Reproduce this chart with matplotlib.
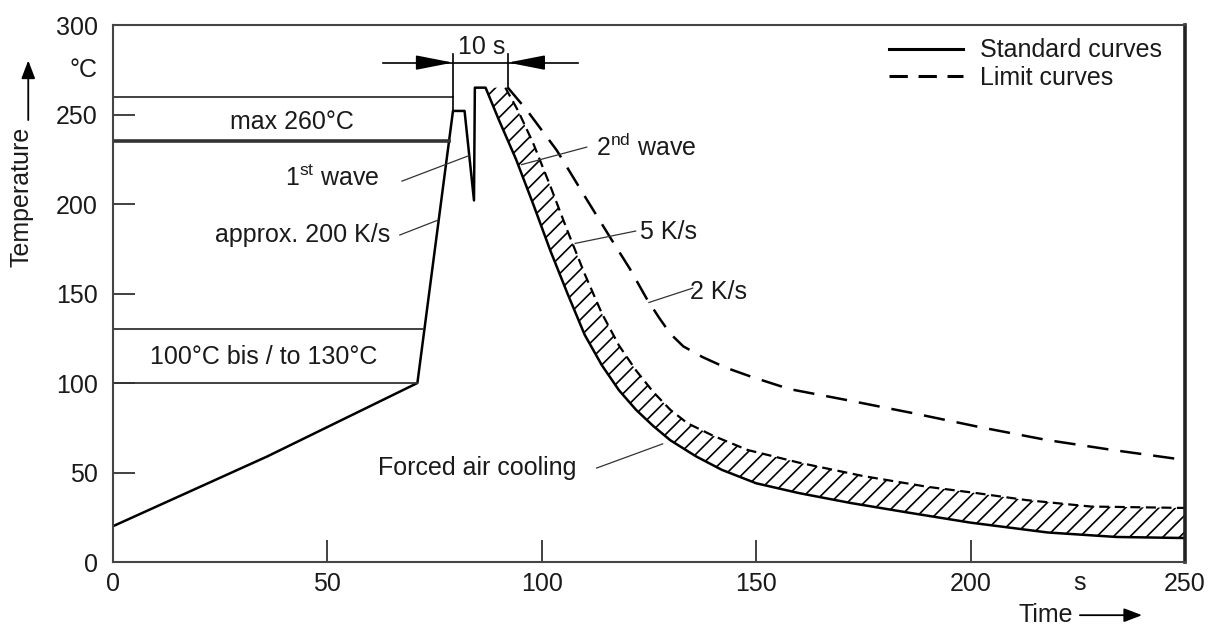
import matplotlib
matplotlib.use('Agg')
import matplotlib.pyplot as plt
from matplotlib.lines import Line2D
from matplotlib.transforms import blended_transform_factory

# heating part of the standard profile: preheat, 1st wave, 2nd wave
heat_time = [0, 36, 71.0, 79.3, 82.0, 84.2, 84.4]
heat_temp = [20, 59, 100, 252, 252, 202, 265]

# standard curve after the 2nd wave (forced air cooling), lower edge of hatch
std_time = [86.9, 90, 94, 98, 102, 106, 110, 114, 118, 122, 126, 130,
            136, 142, 150, 160, 172, 185, 200, 218, 234, 250]
std_temp = [265, 247, 225, 200, 174, 150, 127, 110, 96, 85, 76, 68,
            59, 51.5, 44, 38.5, 33, 27.8, 22, 16.5, 14, 13.4]

# 5 K/s limit curve, upper edge of hatch
k5_time = [91.5, 94.5, 98, 102, 106, 110, 114, 118, 122, 126, 130, 134,
           140, 148, 160, 175, 190, 201.4, 213, 228, 250]
k5_temp = [265, 252, 234, 210, 185, 161, 139, 121, 107, 95, 85, 77.5,
           70.5, 62.6, 55.5, 48, 42, 38.5, 34.6, 31, 30.2]

# 2 K/s limit curve
k2_time = [92.1, 96.5, 103.5, 109.6, 116.3, 120.5, 124.5, 127.5, 130, 133,
           137.5, 143, 149, 157.8, 171.1, 186.5, 202.1, 217.7, 233.1, 250]
k2_temp = [265, 252.5, 230, 206, 180, 164, 147, 136, 127.5, 120.5,
           114.5, 108.5, 103.4, 96.6, 90.5, 83.2, 75.4, 68.2, 62.6, 57.0]

# horizontal limit lines (temperature, where they meet the profile)
ref_temp = [260, 235, 130, 100]
ref_end = [79.3, 78.3, 72.3, 71.0]

# "10 s" dimension
mark_time = [79.3, 92.1]
mark_low = [252, 265]
mark_high = 284
dim_temp = 279
dim_span = [62.9, 108.4]

x_ticks = [0, 50, 100, 150, 200, 250]
y_ticks = [0, 50, 100, 150, 200, 250, 300]

# labels with leader lines
label_text = ['1$^{\\mathrm{st}}$ wave', 'approx. 200 K/s', '2$^{\\mathrm{nd}}$ wave',
              '5 K/s', '2 K/s', 'Forced air cooling']
label_pos = [(62.2, 214.5), (64.6, 182.7), (112.6, 231.8),
             (122.8, 184.4), (134.5, 150.8), (61.8, 52.5)]
label_ha = ['right', 'right', 'left', 'left', 'left', 'left']
leader_from = [(67.4, 212.8), (66.9, 182.7), (110.5, 231.8),
               (121.9, 184.9), (135.2, 153.0), (112.8, 52.5)]
leader_to = [(83.0, 227.0), (75.8, 191.0), (95.3, 222.0),
             (107.8, 178.0), (125.0, 145.0), (128.2, 66.0)]

plt.rcParams['font.family'] = ['Liberation Sans', 'DejaVu Sans']
plt.rcParams['mathtext.fontset'] = 'custom'
plt.rcParams['mathtext.rm'] = 'Liberation Sans'
plt.rcParams['hatch.linewidth'] = 1.2

FS = 18
TXT = '#1a1a1a'

fig = plt.figure(figsize=(12.25, 6.3), dpi=100)
ax = fig.add_axes([0.0922, 0.1079, 0.8751, 0.8524])
ax.set_xlim(0, 250)
ax.set_ylim(0, 300)

# hatched band between standard curve and 5 K/s limit
ax.fill(k5_time + std_time[::-1], k5_temp + std_temp[::-1],
        facecolor='white', edgecolor='black', hatch='//', linewidth=0)

ax.plot(heat_time + std_time, heat_temp + std_temp, color='black', lw=1.8)
ax.plot(k5_time, k5_temp, color='black', lw=1.6, ls=(0, (4.5, 2.5)))
ax.plot(k2_time, k2_temp, color='black', lw=1.8, ls=(0, (8.5, 4.8)))

for t, e in zip(ref_temp, ref_end):
    ax.plot([0, e], [t, t], color='#333333', lw=2.6 if t == 235 else 1.3)

for t, lo in zip(mark_time, mark_low):
    ax.plot([t, t], [lo, mark_high], color='black', lw=1.2)
ax.plot(dim_span, [dim_temp, dim_temp], color='black', lw=1.2)
head = '-|>,head_length=2.3,head_width=0.45'
ax.annotate('', xy=(mark_time[0], dim_temp), xytext=(mark_time[0] - 8, dim_temp),
            arrowprops=dict(arrowstyle=head, color='black', lw=1.2, shrinkA=0, shrinkB=0))
ax.annotate('', xy=(mark_time[1], dim_temp), xytext=(mark_time[1] + 8.5, dim_temp),
            arrowprops=dict(arrowstyle=head, color='black', lw=1.2, shrinkA=0, shrinkB=0))
ax.text(86, 287.5, '10 s', fontsize=FS, color=TXT, ha='center', va='center')

ax.text(41.7, 246, 'max 260°C', fontsize=FS, color=TXT, ha='center', va='center')
ax.text(35.1, 114.5, '100°C bis / to 130°C', fontsize=FS, color=TXT,
        ha='center', va='center')

for txt, pos, ha, p0, p1 in zip(label_text, label_pos, label_ha, leader_from, leader_to):
    ax.text(pos[0], pos[1], txt, fontsize=FS, color=TXT, ha=ha, va='center')
    ax.plot([p0[0], p1[0]], [p0[1], p1[1]], color='#333333', lw=0.9)

# axes styling
for s in ['left', 'bottom', 'top']:
    ax.spines[s].set_linewidth(1.5)
    ax.spines[s].set_color('#444444')
ax.spines['right'].set_linewidth(2.6)
ax.spines['right'].set_color('#222222')

ax.set_xticks(x_ticks)
ax.set_yticks(y_ticks)
ax.tick_params(direction='in', length=16, width=1.3, colors='#333333',
               labelsize=FS, labelcolor=TXT)
ax.tick_params(axis='y', pad=11)
ax.tick_params(axis='x', pad=7)

ytr = blended_transform_factory(ax.transAxes, ax.transData)
xtr = blended_transform_factory(ax.transData, ax.transAxes)
ax.text(-0.014, 275, '°C', transform=ytr, fontsize=FS, color=TXT,
        ha='right', va='center')
ax.text(225.4, -0.039, 's', transform=xtr, fontsize=FS, color=TXT,
        ha='center', va='center')

# axis titles with arrows
small_head = '-|>,head_length=1.1,head_width=0.42'
ax.text(0.870, -0.099, 'Time', transform=ax.transAxes, fontsize=FS, color=TXT,
        ha='center', va='center')
ax.annotate('', xy=(0.960, -0.099), xytext=(0.902, -0.099), xycoords='axes fraction',
            textcoords='axes fraction', annotation_clip=False,
            arrowprops=dict(arrowstyle=small_head, color='black', lw=1.3,
                            shrinkA=0, shrinkB=0))
ax.text(-0.085, 0.680, 'Temperature', transform=ax.transAxes, fontsize=FS,
        color=TXT, rotation=90, ha='center', va='center')
ax.annotate('', xy=(-0.079, 0.934), xytext=(-0.079, 0.823), xycoords='axes fraction',
            textcoords='axes fraction', annotation_clip=False,
            arrowprops=dict(arrowstyle=small_head, color='black', lw=1.3,
                            shrinkA=0, shrinkB=0))

handles = [Line2D([], [], color='black', lw=2.2),
           Line2D([], [], color='black', lw=2.2, ls=(0, (6, 3.5)))]
ax.legend(handles, ['Standard curves', 'Limit curves'], loc='upper right',
          bbox_to_anchor=(0.979, 0.975), borderaxespad=0, borderpad=0,
          frameon=False, fontsize=FS, handlelength=2.95, handletextpad=0.7,
          labelspacing=0.15, labelcolor=TXT)

fig.savefig('out.png', dpi=100)
